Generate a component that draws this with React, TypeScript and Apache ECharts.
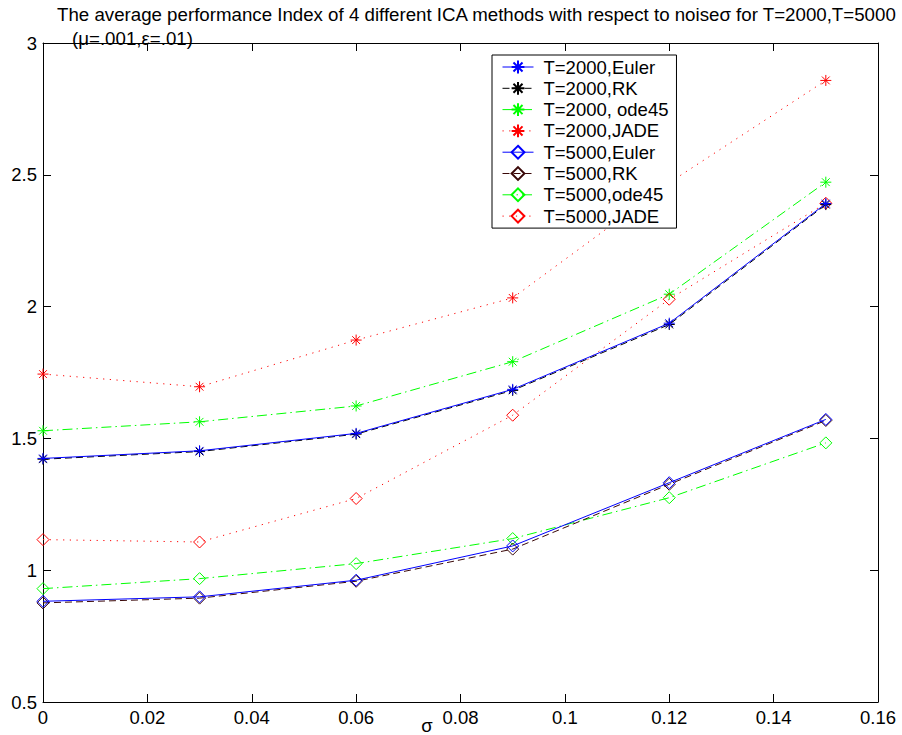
import React, { useEffect, useRef } from "react";
import * as echarts from "echarts";

// noise level sigma on the x axis
const sigma = [0, 0.03, 0.06, 0.09, 0.12, 0.15];

// average performance index, T = 2000
const euler2000 = [1.424, 1.453, 1.519, 1.686, 1.937, 2.391];
const rk2000 = [1.421, 1.450, 1.516, 1.682, 1.932, 2.387];
const ode45_2000 = [1.529, 1.563, 1.623, 1.791, 2.047, 2.472];
const jade2000 = [1.744, 1.696, 1.873, 2.033, 2.47, 2.858];

// average performance index, T = 5000
const euler5000 = [0.882, 0.899, 0.962, 1.092, 1.332, 1.572];
const rk5000 = [0.876, 0.894, 0.958, 1.08, 1.326, 1.568];
const ode45_5000 = [0.93, 0.968, 1.025, 1.12, 1.275, 1.483];
const jade5000 = [1.116, 1.107, 1.272, 1.588, 2.028, 2.392];

const seriesNames = [
  "T=2000,Euler",
  "T=2000,RK",
  "T=2000, ode45",
  "T=2000,JADE",
  "T=5000,Euler",
  "T=5000,RK",
  "T=5000,ode45",
  "T=5000,JADE",
];

const xTickLabels = ["0", "0.02", "0.04", "0.06", "0.08", "0.1", "0.12", "0.14", "0.16"];
const yTickLabels = ["0.5", "1", "1.5", "2", "2.5", "3"];

const titleText =
  "The average performance Index of 4 different ICA methods with respect to noise\u03c3 for T=2000,T=5000";
const subtitleText = "(\u03bc=.001,\u03b5=.01)";
const xAxisName = "\u03c3";

const FONT = "'Liberation Sans', Arial, Helvetica, sans-serif";

const STAR = "path://M0,-6L0,6M-6,0L6,0M-4.24,-4.24L4.24,4.24M-4.24,4.24L4.24,-4.24";

const BLUE = "#0000ff";
const BLACK = "#000000";
const GREEN = "#00ff00";
const RED = "#ff0000";
const MAROON = "#3a0808";

const SOLID: any = "solid";
const DASHED: any = [7, 4];
const DASHDOT: any = [10, 4, 1.5, 4];
const DOTTED: any = [1.2, 5.5];

function makeSeries(
  name: string,
  values: number[],
  color: string,
  dash: any,
  marker: "star" | "diamond",
  z: number
) {
  const isStar = marker === "star";
  return {
    name,
    type: "line",
    xAxisIndex: 0,
    yAxisIndex: 0,
    data: sigma.map((s, i) => [s, values[i]]),
    symbol: isStar ? STAR : "diamond",
    symbolSize: isStar ? 11 : 12,
    showSymbol: true,
    showAllSymbol: true,
    z,
    lineStyle: { color, width: 1, type: dash },
    itemStyle: {
      color: isStar ? color : "none",
      borderColor: color,
      borderWidth: 1,
    },
    emphasis: { disabled: true },
  };
}

export default function App() {
  const ref = useRef<HTMLDivElement>(null);

  useEffect(() => {
    if (!ref.current) return;
    const chart = echarts.init(ref.current, undefined, { renderer: "svg" });

    const axisCommon = {
      type: "value",
      axisLine: { show: true, onZero: false, lineStyle: { color: "#000", width: 1 } },
      axisTick: { show: true, inside: true, length: 8, lineStyle: { color: "#000" } },
      splitLine: { show: false },
    };

    const xLabel = (v: number) => {
      const idx = Math.round(v / 0.02);
      return xTickLabels[idx] ?? "";
    };
    const yLabel = (v: number) => {
      const idx = Math.round((v - 0.5) / 0.5);
      return yTickLabels[idx] ?? "";
    };

    chart.setOption({
      animation: false,
      backgroundColor: "#fff",
      grid: { left: 43, right: 24, top: 43, bottom: 33, containLabel: false },
      xAxis: [
        {
          ...axisCommon,
          position: "bottom",
          min: 0,
          max: 0.16,
          interval: 0.02,
          axisLabel: {
            show: true,
            margin: 6,
            color: "#000",
            fontSize: 18.5,
            fontFamily: FONT,
            formatter: xLabel,
          },
        },
        {
          ...axisCommon,
          position: "top",
          min: 0,
          max: 0.16,
          interval: 0.02,
          axisLabel: { show: false },
        },
      ],
      yAxis: [
        {
          ...axisCommon,
          position: "left",
          min: 0.5,
          max: 3,
          interval: 0.5,
          axisLabel: {
            show: true,
            margin: 6,
            color: "#000",
            fontSize: 18.5,
            fontFamily: FONT,
            formatter: yLabel,
          },
        },
        {
          ...axisCommon,
          position: "right",
          min: 0.5,
          max: 3,
          interval: 0.5,
          axisLabel: { show: false },
        },
      ],
      legend: {
        orient: "vertical",
        left: 492,
        top: 55,
        padding: [2.5, 8, 2.5, 10],
        itemGap: 2.3,
        itemWidth: 31,
        itemHeight: 16,
        backgroundColor: "#fff",
        borderColor: "#000",
        borderWidth: 1,
        borderRadius: 0,
        z: 10,
        selectedMode: false,
        lineStyle: { width: 1 },
        textStyle: {
          color: "#000",
          fontSize: 18.5,
          fontFamily: FONT,
          lineHeight: 16,
          padding: [0, 0, 0, 5],
        },
        data: seriesNames,
      },
      graphic: [
        {
          type: "text",
          left: 57,
          top: 5,
          style: { text: titleText, fill: "#000", fontSize: 18.7, fontFamily: FONT },
        },
        {
          type: "text",
          left: 72,
          top: 29,
          style: { text: subtitleText, fill: "#000", fontSize: 18.7, fontFamily: FONT },
        },
        {
          type: "text",
          x: 427,
          y: 725,
          style: {
            text: xAxisName,
            fill: "#000",
            fontSize: 18.5,
            fontFamily: FONT,
            align: "center",
            verticalAlign: "middle",
          },
        },
      ],
      series: [
        makeSeries(seriesNames[0], euler2000, BLUE, SOLID, "star", 4),
        makeSeries(seriesNames[1], rk2000, BLACK, DASHED, "star", 3),
        makeSeries(seriesNames[2], ode45_2000, GREEN, DASHDOT, "star", 2),
        makeSeries(seriesNames[3], jade2000, RED, DOTTED, "star", 2),
        makeSeries(seriesNames[4], euler5000, BLUE, SOLID, "diamond", 4),
        makeSeries(seriesNames[5], rk5000, MAROON, DASHED, "diamond", 3),
        makeSeries(seriesNames[6], ode45_5000, GREEN, DASHDOT, "diamond", 2),
        makeSeries(seriesNames[7], jade5000, RED, DOTTED, "diamond", 2),
      ],
    });

    return () => chart.dispose();
  }, []);

  return <div ref={ref} style={{ width: 902, height: 735, position: "absolute", left: 0, top: 0 }} />;
}
